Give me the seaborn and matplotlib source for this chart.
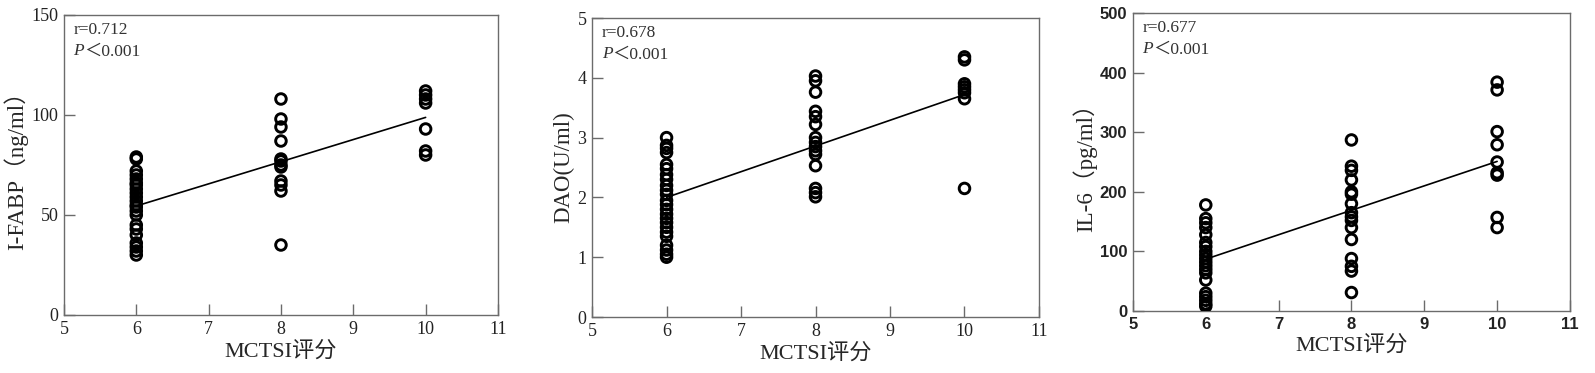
import numpy
import pandas
import matplotlib
matplotlib.use('Agg')
import matplotlib.pyplot as plt
import seaborn as sns

# ====== DATA

score_levels = [6, 8, 10]

fabp_6 = [79, 78, 72, 70, 68, 66, 65, 63, 61, 59, 57, 55, 54, 52, 50, 45, 43, 40, 36, 34, 32, 30]
fabp_8 = [108, 98, 94, 87, 78, 77, 75, 74, 67, 65, 62, 35]
fabp_10 = [112, 110, 108, 106, 93, 82, 80]
fabp_fit = [54.5, 98.8]

dao_6 = [3.0, 2.87, 2.82, 2.75, 2.55, 2.48, 2.38, 2.3, 2.2, 2.12, 2.05, 1.95, 1.88, 1.8,
         1.72, 1.65, 1.58, 1.5, 1.42, 1.35, 1.2, 1.12, 1.05, 1.0]
dao_8 = [4.03, 3.95, 3.76, 3.44, 3.35, 3.22, 3.0, 2.92, 2.85, 2.78, 2.72, 2.53, 2.15, 2.08, 2.01]
dao_10 = [4.35, 4.3, 3.9, 3.85, 3.8, 3.75, 3.65, 2.15]
dao_fit = [2.0, 3.72]

il6_6 = [178, 155, 148, 140, 128, 115, 108, 100, 94, 88, 82, 76, 70, 64, 52, 30, 24, 18, 12, 8]
il6_8 = [287, 243, 236, 220, 200, 196, 180, 165, 158, 152, 140, 120, 88, 75, 67, 31]
il6_10 = [384, 371, 301, 279, 250, 232, 228, 157, 140]
il6_fit = [87, 251]

ylabels = ['I-FABP（ng/ml）', 'DAO(U/ml)', 'IL-6（pg/ml）']
r_values = ['r=0.712', 'r=0.678', 'r=0.677']
ylims = [(0, 150), (0, 5), (0, 500)]
yticks = [[0, 50, 100, 150], [0, 1, 2, 3, 4, 5], [0, 100, 200, 300, 400, 500]]
xticks = [5, 6, 7, 8, 9, 10, 11]

# ====== CONFIGS

sns.set_style('ticks')
plt.rcParams['font.family'] = ['Liberation Serif', 'Noto Sans CJK SC']
plt.rcParams['xtick.direction'] = 'in'
plt.rcParams['ytick.direction'] = 'in'

SERIF = ['Liberation Serif', 'Noto Sans CJK SC']
SPINE = '#6b6b6b'

panels = [
    (fabp_6, fabp_8, fabp_10, fabp_fit),
    (dao_6, dao_8, dao_10, dao_fit),
    (il6_6, il6_8, il6_10, il6_fit),
]
positions = [
    [0.0401, 0.1555, 0.2721, 0.8043],
    [0.3712, 0.1501, 0.2802, 0.8016],
    [0.7103, 0.1662, 0.2740, 0.7989],
]

fig = plt.figure(figsize=(15.95, 3.73), dpi=100)

for i, (g6, g8, g10, fit) in enumerate(panels):
    ax = fig.add_axes(positions[i])
    df = pandas.DataFrame({
        'score': [6] * len(g6) + [8] * len(g8) + [10] * len(g10),
        'value': g6 + g8 + g10,
    })
    sns.scatterplot(x='score', y='value', data=df, ax=ax, marker='o', s=58,
                    facecolor='none', edgecolor='black', linewidth=2.1, zorder=3)
    for coll in ax.collections:
        coll.set_facecolor('none')
        coll.set_edgecolor('black')
    fit_df = pandas.DataFrame({'score': [score_levels[0], score_levels[-1]], 'value': fit})
    sns.lineplot(x='score', y='value', data=fit_df, ax=ax, color='black', linewidth=1.2, zorder=4)

    ax.set_xlim(5, 11)
    ax.set_ylim(*ylims[i])
    ax.set_xticks(xticks)
    ax.set_yticks(yticks[i])
    ax.set_xlabel('MCTSI评分', fontsize=16, family=SERIF, labelpad=3)
    ax.set_ylabel(ylabels[i], fontsize=16.5, family=SERIF, labelpad=2)

    for side in ['top', 'right', 'left', 'bottom']:
        ax.spines[side].set_visible(True)
        ax.spines[side].set_color(SPINE)
        ax.spines[side].set_linewidth(1.0)
    ax.tick_params(axis='both', length=8, width=1.0, color=SPINE, pad=4)

    if i == 2:
        tick_font = dict(family='Liberation Sans', weight='bold', size=12)
    else:
        tick_font = dict(family='Liberation Serif', size=13)
    for lab in ax.get_xticklabels() + ax.get_yticklabels():
        lab.set_fontfamily(tick_font['family'])
        lab.set_fontsize(tick_font['size'])
        lab.set_fontweight(tick_font.get('weight', 'normal'))
        lab.set_color('#222222')

    # ====== r / P annotation
    ax.text(0.022, 0.975, r_values[i], transform=ax.transAxes, ha='left', va='top',
            fontsize=12.5, family=SERIF, color='#333333')
    p_txt = ax.text(0.022, 0.905, 'P', transform=ax.transAxes, ha='left', va='top',
                    fontsize=12.5, family=SERIF, style='italic', color='#333333')
    ax.annotate('＜0.001', xy=(1.0, 0.0), xycoords=p_txt, ha='left', va='bottom',
                fontsize=12.5, family=SERIF, color='#333333')

fig.savefig('out.png', dpi=100)
plt.close()
